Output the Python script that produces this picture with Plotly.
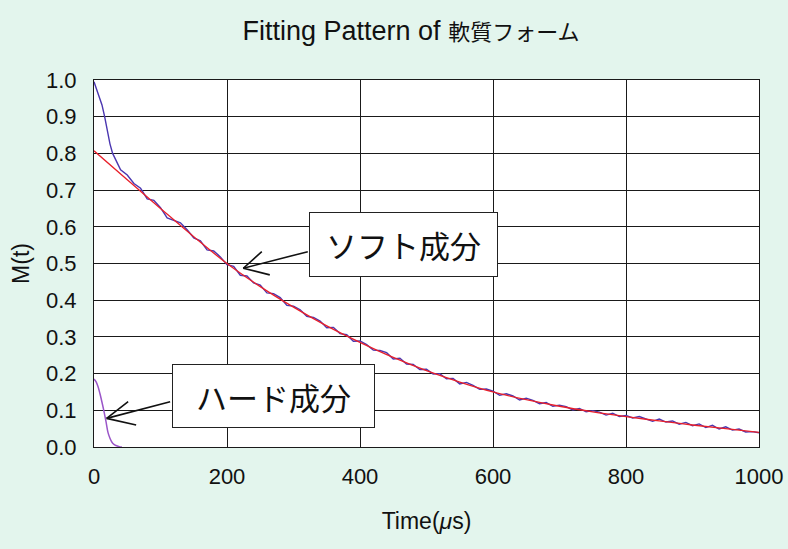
import plotly.graph_objects as go

# ---- data ----
# measured signal (early fast drop, then noisy soft decay)
data_t = [0, 4, 8, 12, 16, 20, 24, 28, 32, 36, 40,
          50, 60, 70, 80, 90, 100, 110, 120, 130, 140, 150, 160, 170, 180, 190,
          200, 210, 220, 230, 240, 250, 260, 270, 280, 290,
          300, 310, 320, 330, 340, 350, 360, 370, 380, 390,
          400, 410, 420, 430, 440, 450, 460, 470, 480, 490,
          500, 510, 520, 530, 540, 550, 560, 570, 580, 590,
          600, 610, 620, 630, 640, 650, 660, 670, 680, 690,
          700, 710, 720, 730, 740, 750, 760, 770, 780, 790,
          800, 810, 820, 830, 840, 850, 860, 870, 880, 890,
          900, 910, 920, 930, 940, 950, 960, 970, 980, 990, 1000]
data_m = [0.995, 0.975, 0.955, 0.932, 0.900, 0.858, 0.826, 0.800, 0.784, 0.770, 0.755,
          0.741, 0.718, 0.705, 0.676, 0.672, 0.652, 0.624, 0.618, 0.611, 0.592, 0.570, 0.562, 0.537, 0.534, 0.518,
          0.497, 0.492, 0.468, 0.466, 0.447, 0.441, 0.420, 0.418, 0.407, 0.386,
          0.384, 0.374, 0.356, 0.353, 0.343, 0.325, 0.326, 0.309, 0.306, 0.288,
          0.289, 0.279, 0.264, 0.263, 0.257, 0.240, 0.242, 0.226, 0.225, 0.211,
          0.212, 0.199, 0.200, 0.186, 0.187, 0.172, 0.176, 0.168, 0.157, 0.158,
          0.152, 0.141, 0.145, 0.139, 0.128, 0.133, 0.127, 0.118, 0.121, 0.111,
          0.114, 0.110, 0.101, 0.105, 0.096, 0.099, 0.095, 0.087, 0.092, 0.083,
          0.086, 0.079, 0.083, 0.077, 0.070, 0.076, 0.068, 0.071, 0.062, 0.067,
          0.058, 0.063, 0.053, 0.059, 0.049, 0.055, 0.046, 0.049, 0.041, 0.042, 0.039]

# fitted soft component
fit_t = [0, 50, 100, 150, 200, 250, 300, 350, 400, 450, 500,
         550, 600, 650, 700, 750, 800, 850, 900, 950, 1000]
fit_m = [0.807, 0.728, 0.650, 0.573, 0.500, 0.437, 0.381, 0.330, 0.285, 0.244, 0.208,
         0.177, 0.150, 0.129, 0.111, 0.096, 0.083, 0.071, 0.060, 0.050, 0.040]

# hard component
hard_t = [0, 3, 6, 9, 12, 15, 18, 21, 24, 27, 30, 33, 36, 39, 42]
hard_m = [0.185, 0.178, 0.165, 0.145, 0.122, 0.097, 0.070, 0.040, 0.024, 0.013, 0.007, 0.004, 0.002, 0.0, 0.0]

x_ticks = [0, 200, 400, 600, 800, 1000]
y_ticks = [0.0, 0.1, 0.2, 0.3, 0.4, 0.5, 0.6, 0.7, 0.8, 0.9, 1.0]

title_latin = "Fitting Pattern of"
title_jp = "軟質フォーム"
x_title = "Time(<i>μ</i>s)"
y_title = "M(t)"
soft_label = "ソフト成分"
hard_label = "ハード成分"

LAT = "Liberation Sans, Arial, sans-serif"
JP = "Noto Sans CJK JP, sans-serif"

fig = go.Figure()
fig.add_trace(go.Scatter(x=data_t, y=data_m, mode="lines",
                         line=dict(color="#4a36b0", width=1.4), showlegend=False))
fig.add_trace(go.Scatter(x=hard_t, y=hard_m, mode="lines",
                         line=dict(color="#9a55c8", width=1.5, shape="spline"), showlegend=False))
fig.add_trace(go.Scatter(x=fit_t, y=fit_m, mode="lines",
                         line=dict(color="#e8202a", width=1.3, shape="spline"), showlegend=False))

axis_common = dict(showgrid=True, gridcolor="#1a1a1a", gridwidth=1,
                   showline=True, linecolor="#1a1a1a", linewidth=1, mirror=True,
                   zeroline=False, ticks="", automargin=False,
                   tickfont=dict(family=LAT, size=22, color="#111"))

fig.update_xaxes(range=[0, 1000], tickvals=x_ticks, ticktext=[str(v) for v in x_ticks],
                 ticklabelstandoff=10,
                 title=dict(text=x_title, font=dict(family=LAT, size=23, color="#111"), standoff=24),
                 **axis_common)
fig.update_yaxes(range=[0, 1.0], tickvals=y_ticks, ticktext=[f"{v:.1f}" for v in y_ticks],
                 ticklabelstandoff=12,
                 title=dict(text=y_title, font=dict(family=LAT, size=23, color="#111"), standoff=9),
                 **axis_common)

def arrow(tx, ty, ax, ay):
    fig.add_annotation(x=tx, y=ty, xref="x", yref="y", text="", showarrow=True,
                       arrowhead=0, arrowwidth=1.6, arrowcolor="#111",
                       ax=ax, ay=ay, axref="pixel", ayref="pixel", standoff=0, startstandoff=0)

# soft arrow (shaft + two barbs)
arrow(224.5, 0.487, 66, -17)
arrow(224.5, 0.487, 20, -18)
arrow(224.5, 0.487, 28, 7)
# hard arrow
arrow(19, 0.078, 65, -17)
arrow(19, 0.078, 23, -18)
arrow(19, 0.078, 31, 7)

fig.add_annotation(x=465.4, y=0.552, xref="x", yref="y", text=soft_label, showarrow=False,
                   font=dict(family=JP, size=31, color="#111"),
                   bgcolor="white", bordercolor="#222", borderwidth=1, borderpad=1,
                   width=185, height=61, align="center", valign="middle")
fig.add_annotation(x=269.6, y=0.139, xref="x", yref="y", text=hard_label, showarrow=False,
                   font=dict(family=JP, size=31, color="#111"),
                   bgcolor="white", bordercolor="#222", borderwidth=1, borderpad=1,
                   width=199, height=60, align="center", valign="middle")

fig.update_layout(
    width=788, height=549,
    margin=dict(l=94, r=29, t=80, b=102, autoexpand=False),
    paper_bgcolor="#e3f5ed",
    plot_bgcolor="white",
    title=dict(text=f"{title_latin} <span style='font-size:22px'>{title_jp}</span>",
               x=411 / 788, xanchor="center", xref="container",
               y=1 - 31 / 549, yanchor="middle", yref="container",
               font=dict(family=LAT + ", " + JP, size=27, color="#111")),
)

fig.write_html("out.html", config={"displayModeBar": False},
               post_script="document.body.style.margin='0';document.body.style.background='#e3f5ed';")
